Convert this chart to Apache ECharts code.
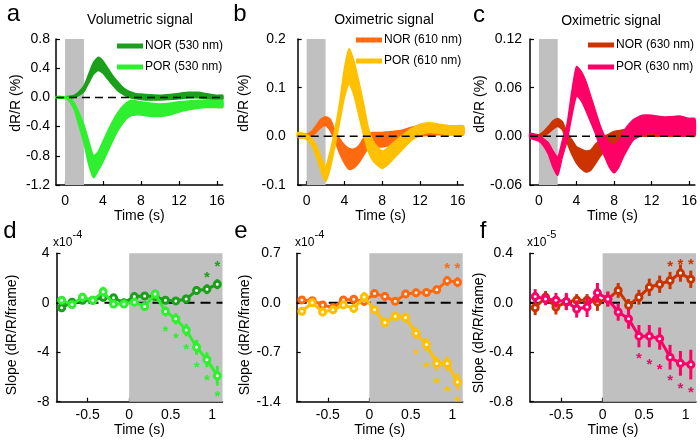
<!DOCTYPE html>
<html><head><meta charset="utf-8">
<script src="https://cdn.jsdelivr.net/npm/echarts@6/dist/echarts.min.js"></script>
<style>html,body{margin:0;padding:0;background:#fff}#c{width:700px;height:444px}</style>
</head><body><div id="c"></div>
<script>
const FONT = '"Liberation Sans", Arial, Helvetica, sans-serif';

// ---------- top panels: time courses (mean ± SEM envelope) ----------
const tBand = [-0.95, 0, 0.5, 1, 1.5, 2, 2.5, 3, 3.5, 4, 4.5, 5, 5.5, 6, 6.5, 7, 7.5, 8, 8.5, 9, 10, 11, 12, 13, 14, 15, 16, 16.6];

const aNorLo = [-0.01,-0.01,-0.01,0.0,0.03,0.08,0.2,0.32,0.37,0.33,0.25,0.17,0.1,0.05,0.01,-0.01,-0.02,-0.03,-0.035,-0.035,-0.035,-0.03,-0.02,-0.005,-0.005,-0.02,-0.03,-0.03];
const aNorHi = [0.01,0.01,0.015,0.03,0.08,0.16,0.32,0.48,0.55,0.5,0.4,0.3,0.22,0.15,0.1,0.07,0.05,0.045,0.04,0.035,0.03,0.04,0.055,0.07,0.07,0.05,0.03,0.03];
const aPorLo = [-0.01,-0.01,-0.06,-0.18,-0.4,-0.63,-0.92,-1.1,-1.0,-0.88,-0.74,-0.6,-0.47,-0.37,-0.29,-0.25,-0.24,-0.24,-0.25,-0.26,-0.26,-0.24,-0.2,-0.17,-0.15,-0.14,-0.14,-0.14];
const aPorHi = [0.01,0.01,-0.01,-0.08,-0.22,-0.38,-0.6,-0.8,-0.74,-0.6,-0.46,-0.33,-0.22,-0.13,-0.07,-0.04,-0.05,-0.06,-0.07,-0.08,-0.09,-0.08,-0.06,-0.05,-0.04,-0.04,-0.04,-0.04];

const bNorLo = [-0.002,-0.003,0.0,0.008,0.018,0.022,0.012,-0.01,-0.035,-0.055,-0.068,-0.065,-0.055,-0.04,-0.025,-0.022,-0.022,-0.022,-0.02,-0.018,-0.012,-0.004,0.0,0.002,0.003,0.003,0.003,0.003];
const bNorHi = [0.006,0.005,0.01,0.022,0.035,0.04,0.035,0.012,-0.005,-0.018,-0.025,-0.026,-0.02,-0.005,0.005,0.008,0.008,0.008,0.009,0.01,0.012,0.018,0.022,0.024,0.022,0.022,0.02,0.02];
const bPorLo = [0.0,-0.006,-0.018,-0.04,-0.07,-0.093,-0.065,-0.02,0.03,0.08,0.108,0.085,0.045,0.005,-0.03,-0.05,-0.06,-0.066,-0.06,-0.05,-0.03,-0.01,0.003,0.008,0.006,0.004,0.004,0.004];
const bPorHi = [0.008,0.004,-0.004,-0.018,-0.042,-0.062,-0.03,0.015,0.07,0.14,0.18,0.155,0.115,0.07,0.02,-0.008,-0.022,-0.03,-0.025,-0.016,0.0,0.015,0.025,0.028,0.025,0.022,0.022,0.022];

const cNorLo = [-0.002,-0.002,0.0,0.004,0.009,0.012,0.008,-0.008,-0.022,-0.033,-0.04,-0.044,-0.042,-0.034,-0.025,-0.018,-0.013,-0.01,-0.008,-0.006,-0.002,0.0,0.0,0.0,0.0,0.0,0.0,0.0];
const cNorHi = [0.003,0.002,0.006,0.012,0.019,0.022,0.018,0.004,-0.004,-0.013,-0.016,-0.018,-0.017,-0.01,-0.005,0.0,0.003,0.006,0.007,0.008,0.01,0.012,0.012,0.012,0.012,0.012,0.012,0.012];
const cPorLo = [-0.002,-0.006,-0.012,-0.022,-0.038,-0.048,-0.025,-0.005,0.025,0.05,0.044,0.032,0.018,0.004,-0.012,-0.025,-0.038,-0.045,-0.038,-0.025,-0.005,0.002,0.004,0.002,0.002,0.0,0.002,0.002];
const cPorHi = [0.004,0.0,-0.003,-0.008,-0.018,-0.026,-0.005,0.015,0.055,0.086,0.08,0.068,0.05,0.032,0.014,0.0,-0.008,-0.01,-0.005,0.006,0.02,0.026,0.026,0.024,0.024,0.025,0.022,0.022];

// ---------- bottom panels: slopes per frame ----------
const tSlope = [-0.8125,-0.6875,-0.5625,-0.4375,-0.3125,-0.1875,-0.0625,0.0625,0.1875,0.3125,0.4375,0.5625,0.6875,0.8125,0.9375,1.0625];

const dNor    = [-0.4,0.05,0.2,0.2,0.45,0.4,0.0,0.5,0.55,0.5,0.2,0.15,0.3,1.0,1.1,1.5];
const dNorErr = [0.35,0.3,0.3,0.3,0.35,0.3,0.3,0.35,0.3,0.3,0.3,0.3,0.35,0.35,0.4,0.4];
const dPor    = [0.2,-0.15,0.45,0.2,0.9,-0.1,-0.1,0.05,-0.3,0.7,-0.7,-1.3,-2.2,-3.6,-4.6,-5.9];
const dPorErr = [0.3,0.3,0.35,0.3,0.4,0.3,0.3,0.3,0.3,0.35,0.4,0.45,0.5,0.6,0.6,0.8];
const dNorStars = [[0.9375,2.3],[1.0625,3.2]];
const dPorStars = [[0.4375,-2.0],[0.5625,-2.6],[0.6875,-3.45],[0.8125,-4.9],[0.9375,-6.0],[1.0625,-7.25]];

const eNor    = [0.04,0.03,-0.03,-0.07,0.04,0.05,0.02,0.13,0.09,0.02,0.125,0.14,0.145,0.185,0.31,0.29];
const eNorErr = [0.05,0.05,0.05,0.05,0.05,0.05,0.06,0.06,0.06,0.05,0.06,0.06,0.06,0.06,0.07,0.07];
const ePor    = [-0.12,0.0,-0.13,-0.1,-0.03,-0.08,0.08,-0.1,-0.28,-0.19,-0.21,-0.43,-0.59,-0.86,-0.86,-1.12];
const ePorErr = [0.06,0.06,0.06,0.06,0.06,0.06,0.07,0.06,0.07,0.07,0.07,0.08,0.09,0.1,0.1,0.12];
const eNorStars = [[0.9375,0.53],[1.0625,0.53]];
const ePorStars = [[0.5625,-0.68],[0.6875,-0.87],[0.8125,-1.09],[0.9375,-1.2],[1.0625,-1.35]];

const fNor    = [-0.04,0.045,-0.035,0.005,0.02,0.02,0.005,0.03,0.1,-0.02,0.045,0.125,0.15,0.18,0.24,0.19];
const fNorErr = [0.06,0.05,0.06,0.06,0.05,0.05,0.07,0.06,0.06,0.05,0.06,0.07,0.07,0.07,0.07,0.07];
const fPor    = [0.05,0.03,0.02,0.01,-0.05,-0.035,0.08,0.03,-0.075,-0.13,-0.27,-0.27,-0.29,-0.44,-0.49,-0.5];
const fPorErr = [0.06,0.05,0.06,0.07,0.07,0.08,0.08,0.06,0.07,0.08,0.09,0.09,0.09,0.1,0.1,0.12];
const fNorStars = [[0.8125,0.32],[0.9375,0.34],[1.0625,0.34]];
const fPorStars = [[0.4375,-0.42],[0.5625,-0.47],[0.6875,-0.51],[0.8125,-0.6],[0.9375,-0.66],[1.0625,-0.7]];

// ---------- labels ----------
const panelLetters = ['a','b','c','d','e','f'];
const panelTitles = ['Volumetric signal','Oximetric signal','Oximetric signal'];
const legendNames = [['NOR (530 nm)','POR (530 nm)'],['NOR (610 nm)','POR (610 nm)'],['NOR (630 nm)','POR (630 nm)']];
const timeTicksTop = [0,4,8,12,16];
const timeTicksBottom = [-0.5,0,0.5,1];
const scaleExp = ['-4','-4','-5'];

// colours
const C = {
  aNor:'#1aa01a', aPor:'#2ef02e',
  bNor:'#ff6a10', bPor:'#ffc000',
  cNor:'#cc3300', cPor:'#ff0066'
};
const GRAY = '#c0c0c0';

const grids = [
  {left:56,    top:39,    width:166.7, height:146},
  {left:297.7, top:39,    width:165.7, height:146},
  {left:530,   top:39,    width:165.7, height:146},
  {left:56.5,  top:253.3, width:166,   height:148.4},
  {left:296.7, top:253.3, width:166,   height:148.4},
  {left:530,   top:253.3, width:166,   height:148.4}
];

function fix(d){ return v => (Math.abs(v) < 1e-9 ? 0 : v).toFixed(d); }

function xAx(i, min, max, ticks, margin){
  return {type:'value', gridIndex:i, min, max,
    axisLine:{show:true, onZero:false, lineStyle:{color:'#000', width:1.5}},
    axisTick:{show:true, inside:true, length:4, customValues:ticks, lineStyle:{color:'#000', width:1.2}},
    axisLabel:{customValues:ticks, formatter:v=>String(v), color:'#000', fontSize:14, fontFamily:FONT, margin},
    splitLine:{show:false},
    name:'Time (s)', nameLocation:'middle', nameGap: i<3 ? 22 : 21,
    nameTextStyle:{color:'#000', fontSize:14, fontFamily:FONT}
  };
}
function yAx(i, min, max, interval, dec, margin){
  return {type:'value', gridIndex:i, min, max, interval,
    axisLine:{show:true, onZero:false, lineStyle:{color:'#000', width:1.5}},
    axisTick:{show:true, inside:true, length:4, lineStyle:{color:'#000', width:1.2}},
    axisLabel:{formatter:fix(dec), color:'#000', fontSize:14, fontFamily:FONT, margin},
    splitLine:{show:false}
  };
}

const xAxis = [
  xAx(0,-0.95,16.6,timeTicksTop,9), xAx(1,-0.95,16.6,timeTicksTop,9), xAx(2,-0.95,16.6,timeTicksTop,9),
  xAx(3,-0.875,1.125,timeTicksBottom,6), xAx(4,-0.875,1.125,timeTicksBottom,6), xAx(5,-0.875,1.125,timeTicksBottom,6)
];
const yAxis = [
  yAx(0,-1.2,0.8,0.4,1,6), yAx(1,-0.1,0.2,0.1,1,12), yAx(2,-0.06,0.12,0.06,2,8),
  yAx(3,-8,4,4,0,7), yAx(4,-1.4,0.7,0.7,1,16), yAx(5,-0.8,0.4,0.4,1,17)
];

const series = [];

function stimArea(i, x0, x1){
  series.push({type:'line', xAxisIndex:i, yAxisIndex:i, data:[], z:1, silent:true,
    markArea:{silent:true, itemStyle:{color:GRAY}, data:[[{xAxis:x0},{xAxis:x1}]]}});
}
function zeroLine(i, xmin, xmax, z, dash, w){
  series.push({type:'line', xAxisIndex:i, yAxisIndex:i, z, silent:true, symbol:'none',
    data:[[xmin,0],[xmax,0]], lineStyle:{color:'#000', width:w, type:dash}});
}
function band(i, t, lo, hi, color, z){
  series.push({type:'custom', xAxisIndex:i, yAxisIndex:i, z, silent:true,
    data: t.map((x,k)=>[x, lo[k], hi[k]]),
    renderItem(params, api){
      if (params.dataIndex !== 0) return null;
      const up = t.map((x,k)=>api.coord([x, hi[k]]));
      const dn = t.map((x,k)=>api.coord([x, lo[k]])).reverse();
      return {type:'polygon', shape:{points: up.concat(dn), smooth:0.2},
        style:{fill:color, stroke:color, lineWidth:1.5}};
    }});
}
function slope(i, t, v, err, stars, color, z){
  series.push({type:'custom', xAxisIndex:i, yAxisIndex:i, z, silent:true,
    data: t.map((x,k)=>[x, v[k], err[k]]),
    renderItem(params, api){
      const x = api.value(0), m = api.value(1), e = api.value(2);
      const p1 = api.coord([x, m-e]), p2 = api.coord([x, m+e]);
      return {type:'line', shape:{x1:p1[0], y1:p1[1], x2:p2[0], y2:p2[1]},
        style:{stroke:color, lineWidth:3}};
    }});
  series.push({type:'line', xAxisIndex:i, yAxisIndex:i, z:z+1, silent:true,
    data: t.map((x,k)=>[x, v[k]]), symbol:'circle', symbolSize:6,
    lineStyle:{color, width:3}, itemStyle:{color:'#fff', borderColor:color, borderWidth:3}});
  series.push({type:'custom', xAxisIndex:i, yAxisIndex:i, z:z+2, silent:true,
    data: stars,
    renderItem(params, api){
      const p = api.coord([api.value(0), api.value(1)]);
      return {type:'text', x:p[0], y:p[1]+4,
        style:{text:'*', fill:color, font:'bold 15px ' + FONT, align:'center', verticalAlign:'middle'}};
    }});
}

// top
stimArea(0,0,2); stimArea(1,0,2); stimArea(2,0,2);
band(0, tBand, aNorLo, aNorHi, C.aNor, 2); band(0, tBand, aPorLo, aPorHi, C.aPor, 3);
band(1, tBand, bNorLo, bNorHi, C.bNor, 2); band(1, tBand, bPorLo, bPorHi, C.bPor, 3);
band(2, tBand, cNorLo, cNorHi, C.cNor, 2); band(2, tBand, cPorLo, cPorHi, C.cPor, 3);
zeroLine(0,-0.95,16.6,5,[8,5],1.5); zeroLine(1,-0.95,16.6,5,[8,5],1.5); zeroLine(2,-0.95,16.6,5,[8,5],1.5);
// bottom
stimArea(3,0,1.125); stimArea(4,0,1.125); stimArea(5,0,1.125);
zeroLine(3,-0.875,1.125,2,[10,6],2); zeroLine(4,-0.875,1.125,2,[10,6],2); zeroLine(5,-0.875,1.125,2,[10,6],2);
slope(3, tSlope, dNor, dNorErr, dNorStars, C.aNor, 3);
slope(3, tSlope, dPor, dPorErr, dPorStars, C.aPor, 6);
slope(4, tSlope, eNor, eNorErr, eNorStars, C.bNor, 3);
slope(4, tSlope, ePor, ePorErr, ePorStars, C.bPor, 6);
slope(5, tSlope, fNor, fNorErr, fNorStars, C.cNor, 3);
slope(5, tSlope, fPor, fPorErr, fPorStars, C.cPor, 6);

// ---------- annotations ----------
const graphic = [];
function txt(x, y, text, size, opts){
  graphic.push(Object.assign({type:'text', x, y, silent:true,
    style:Object.assign({text, fill:'#000', font: size+'px '+FONT, align:'center', verticalAlign:'middle'}, (opts&&opts.style)||{})},
    opts && opts.rotation ? {rotation:opts.rotation} : {}));
}
const letterPos = [[13.5,14],[240,14],[479,15],[10,231],[241,231],[483,231]];
panelLetters.forEach((l,k)=>txt(letterPos[k][0], letterPos[k][1], l, 24));
const titlePos = [[140,20],[384,20],[611,21]];
panelTitles.forEach((t,k)=>txt(titlePos[k][0], titlePos[k][1], t, 14));
const yNamePos = [[16,103],[244,103],[480,104]];
yNamePos.forEach(p=>txt(p[0], p[1], 'dR/R (%)', 14, {rotation:Math.PI/2}));
const slopeNamePos = [[12,335],[245,335],[479,333]];
slopeNamePos.forEach(p=>txt(p[0], p[1], 'Slope (dR/R/frame)', 14, {rotation:Math.PI/2}));
const expPos = [[53,243],[295,243],[527,243]];
expPos.forEach((p,k)=>{
  txt(p[0], p[1], 'x10', 12, {style:{align:'left'}});
  txt(p[0]+19.5, p[1]-8, scaleExp[k], 11, {style:{align:'left'}});
});
const legPos = [[117,46,67],[356,40,61],[588,45,67]];
const legCols = [[C.aNor,C.aPor],[C.bNor,C.bPor],[C.cNor,C.cPor]];
legPos.forEach((p,k)=>{
  [p[1],p[2]].forEach((y,j)=>{
    graphic.push({type:'line', silent:true, shape:{x1:p[0], y1:y, x2:p[0]+26, y2:y},
      style:{stroke:legCols[k][j], lineWidth:5}});
    txt(p[0]+28, y, legendNames[k][j], 12, {style:{align:'left'}});
  });
});

const chart = echarts.init(document.getElementById('c'), null, {renderer:'canvas'});
chart.setOption({
  animation:false, backgroundColor:'#fff',
  grid: grids, xAxis, yAxis, series, graphic
});
</script></body></html>
